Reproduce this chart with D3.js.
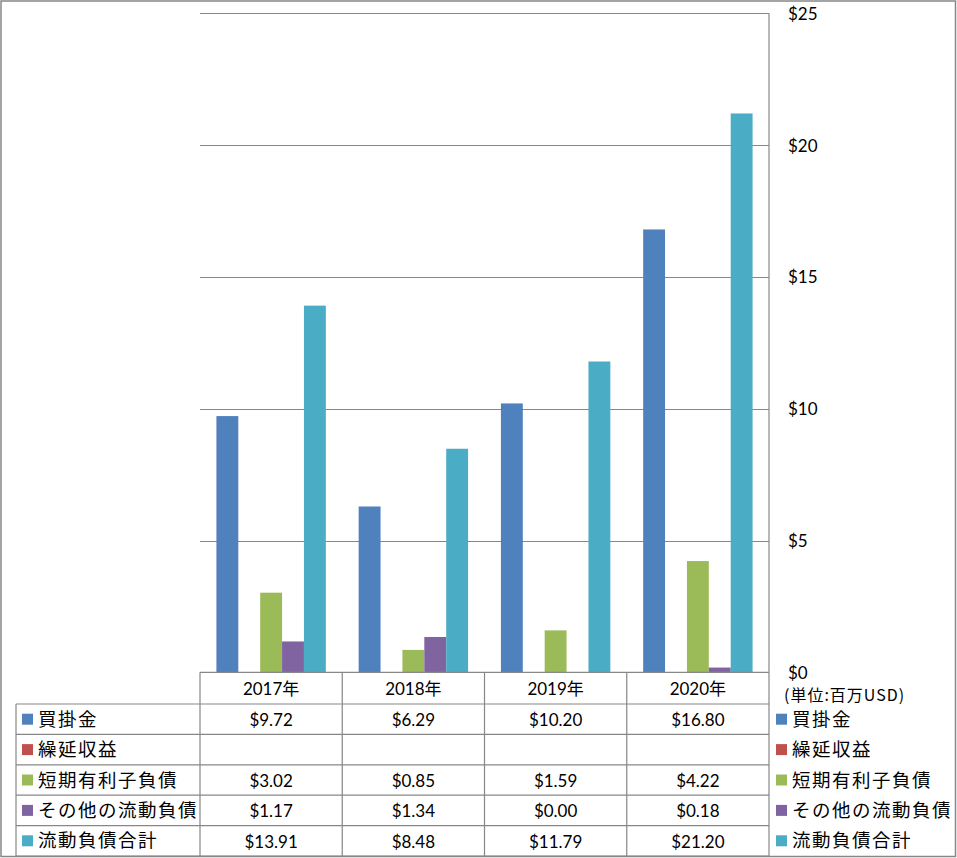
<!DOCTYPE html>
<html>
<head>
<meta charset="utf-8">
<script src="https://cdn.jsdelivr.net/npm/d3@7"></script>
<style>
html,body{margin:0;padding:0;background:#fff;}
svg{display:block;}
</style>
</head>
<body>
<svg id="chart" width="957" height="858"></svg>
<script>
// ---- data ----
const categories = ["2017年", "2018年", "2019年", "2020年"];
const seriesNames = ["買掛金", "繰延収益", "短期有利子負債", "その他の流動負債", "流動負債合計"];
const kaikake   = [9.72, 6.29, 10.20, 16.80];
const kurinobe  = [null, null, null, null];
const tanki     = [3.02, 0.85, 1.59, 4.22];
const sonota    = [1.17, 1.34, 0.00, 0.18];
const total     = [13.91, 8.48, 11.79, 21.20];
const yTicks    = [0, 5, 10, 15, 20, 25];
const unitLabel = "(単位:百万USD)";
const colors    = ["#4F81BD", "#C0504D", "#9BBB59", "#8064A2", "#4BACC6"];

const seriesValues = [kaikake, kurinobe, tanki, sonota, total];

// ---- layout ----
const svg = d3.select("#chart");
const plotL = 200, plotR = 769, plotT = 13.3, plotB = 672.3;
const tableL = 16, tableB = 856;
const headerB = 704;
const rowH = (tableB - headerB) / seriesNames.length;
const gridColor = "#878787";
const numFont = "Lato, 'Noto Sans CJK JP', sans-serif";
const jpFont = "'Noto Sans CJK JP', sans-serif";

// outer border
svg.append("rect").attr("x", 1).attr("y", 1).attr("width", 954.5).attr("height", 855.5)
  .attr("fill", "none").attr("stroke", gridColor).attr("stroke-width", 1.5);

const x = d3.scaleBand().domain(categories).range([plotL, plotR]).paddingInner(0).paddingOuter(0);
const xs = d3.scaleBand().domain(seriesNames).range([0, x.bandwidth()]).paddingInner(0).paddingOuter(0.75);
const y = d3.scaleLinear().domain([0, 25]).range([plotB, plotT]);

// gridlines
svg.append("g").selectAll("line").data(yTicks.filter(t => t > 0)).join("line")
  .attr("x1", plotL).attr("x2", plotR)
  .attr("y1", d => Math.round(y(d)) + 0.5).attr("y2", d => Math.round(y(d)) + 0.5)
  .attr("stroke", gridColor).attr("stroke-width", 1);

// bars
const barData = [];
seriesNames.forEach((s, i) => {
  categories.forEach((c, j) => {
    const v = seriesValues[i][j];
    if (v != null && v > 0) barData.push({s, c, v, color: colors[i]});
  });
});
svg.append("g").selectAll("rect").data(barData).join("rect")
  .attr("x", d => x(d.c) + xs(d.s))
  .attr("width", xs.bandwidth())
  .attr("y", d => y(d.v))
  .attr("height", d => y(0) - y(d.v))
  .attr("fill", d => d.color);

// right y axis labels
const yAxis = d3.axisRight(y).tickValues(yTicks).tickSize(0).tickPadding(0).tickFormat(d => "$" + d);
const ya = svg.append("g").attr("transform", `translate(788,0)`).call(yAxis);
ya.select(".domain").remove();
ya.selectAll("text").attr("font-family", numFont).attr("font-size", 17).attr("fill", "#000")
  .attr("text-anchor", "start").attr("dy", "0.35em").attr("x", 0);

// unit label
svg.append("text").attr("x", 784).attr("y", 695).attr("dy", "0.35em")
  .attr("font-family", jpFont).attr("font-size", 16).attr("letter-spacing", "1px")
  .attr("fill", "#000").text(unitLabel);

// ---- table lines ----
const lines = svg.append("g").attr("stroke", gridColor).attr("stroke-width", 1.2);
lines.append("line").attr("x1", plotL).attr("x2", plotR).attr("y1", plotB).attr("y2", plotB);
lines.append("line").attr("x1", plotR).attr("x2", plotR).attr("y1", plotT).attr("y2", tableB);
categories.forEach((c) => {
  lines.append("line").attr("x1", x(c)).attr("x2", x(c)).attr("y1", plotB).attr("y2", tableB);
});
lines.append("line").attr("x1", tableL).attr("x2", tableL).attr("y1", headerB).attr("y2", tableB);
d3.range(seriesNames.length + 1).forEach(i => {
  const yy = headerB + i * rowH;
  lines.append("line").attr("x1", tableL).attr("x2", plotR).attr("y1", yy).attr("y2", yy);
});

// header year labels
svg.append("g").selectAll("text").data(categories).join("text")
  .attr("x", d => x(d) + x.bandwidth() / 2).attr("y", (plotB + headerB) / 2 + 1)
  .attr("dy", "0.35em").attr("text-anchor", "middle")
  .attr("font-family", numFont).attr("font-size", 17).attr("fill", "#000").text(d => d);

// row labels + legend
seriesNames.forEach((s, i) => {
  const cy = headerB + i * rowH + rowH / 2;
  svg.append("rect").attr("x", 22).attr("y", cy - 5.5).attr("width", 11).attr("height", 11).attr("fill", colors[i]);
  svg.append("text").attr("x", 38).attr("y", cy).attr("dy", "0.36em")
    .attr("font-family", jpFont).attr("font-size", 18.5).attr("letter-spacing", "1.5px")
    .attr("fill", "#000").text(s);
  svg.append("rect").attr("x", 776).attr("y", cy - 5.5).attr("width", 11).attr("height", 11).attr("fill", colors[i]);
  svg.append("text").attr("x", 792).attr("y", cy).attr("dy", "0.36em")
    .attr("font-family", jpFont).attr("font-size", 18.5).attr("letter-spacing", "1.5px")
    .attr("fill", "#000").text(s);
  categories.forEach((c, j) => {
    const v = seriesValues[i][j];
    if (v == null) return;
    svg.append("text").attr("x", x(c) + x.bandwidth() / 2).attr("y", cy + 1).attr("dy", "0.35em")
      .attr("text-anchor", "middle").attr("font-family", numFont).attr("font-size", 17)
      .attr("fill", "#000").text("$" + d3.format(".2f")(v));
  });
});
</script>
</body>
</html>
